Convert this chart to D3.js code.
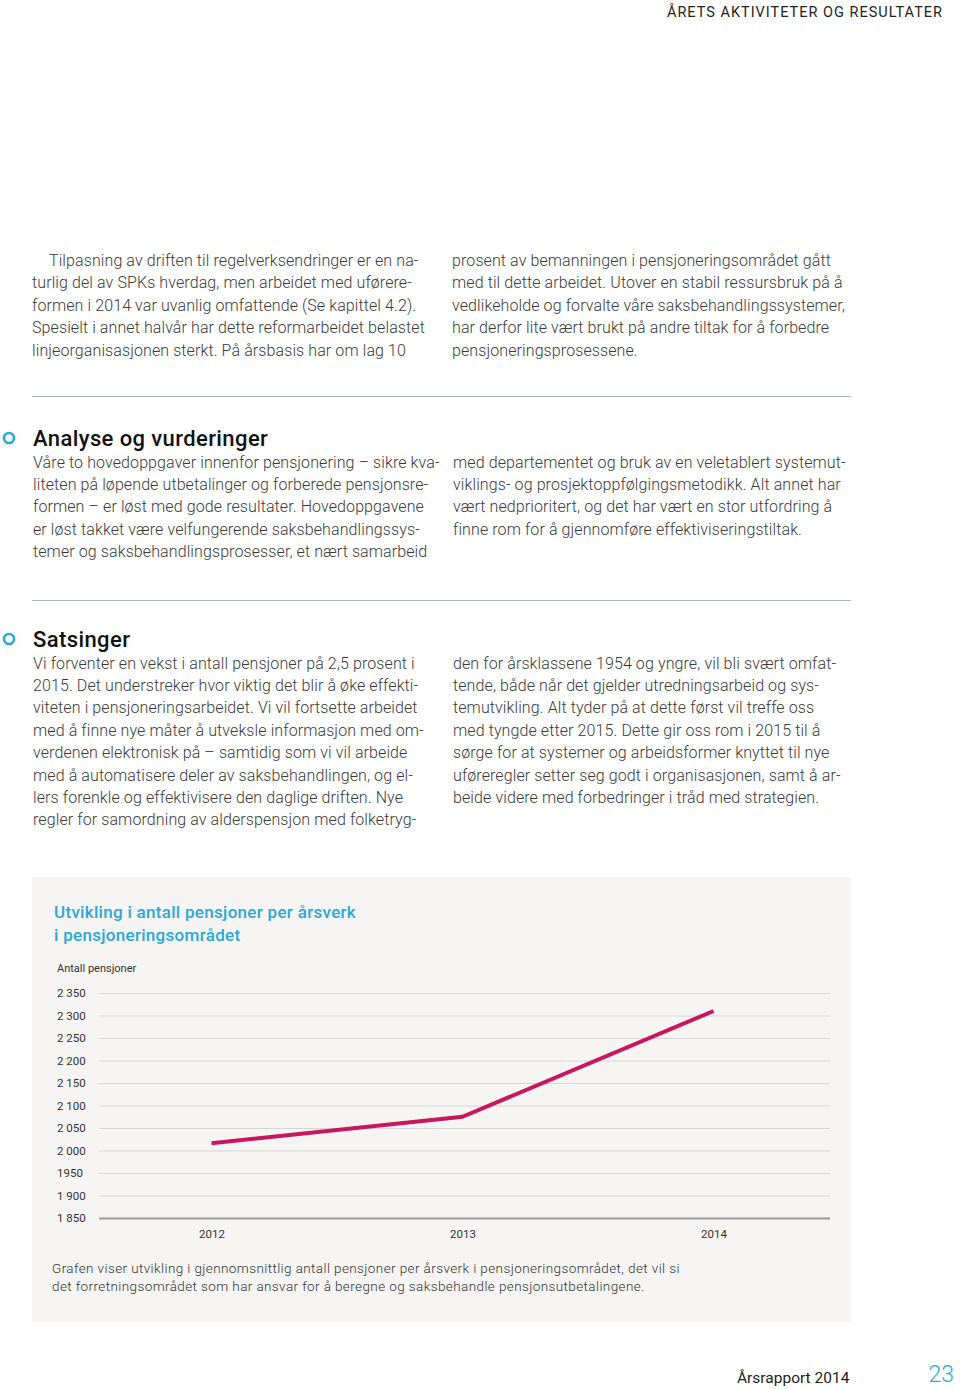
<!DOCTYPE html>
<html>
<head>
<meta charset="utf-8">
<script src="https://cdn.jsdelivr.net/npm/d3@7"></script>
<style>
  html, body { margin: 0; padding: 0; background: #ffffff; }
  svg { display: block; }
</style>
</head>
<body>
<svg id="page" width="960" height="1389"></svg>
<script>
// ---- Data ----
const years = [2012, 2013, 2014];
const pensionsPerFTE = [2016, 2075, 2310];
const yTickValues = [1850, 1900, 1950, 2000, 2050, 2100, 2150, 2200, 2250, 2300, 2350];
const yTickLabels = ["1 850", "1 900", "1950", "2 000", "2 050", "2 100", "2 150", "2 200", "2 250", "2 300", "2 350"];
const chartTitle = ["Utvikling i antall pensjoner per årsverk", "i pensjoneringsområdet"];
const yAxisTitle = "Antall pensjoner";
const caption = [
  "Grafen viser utvikling i gjennomsnittlig antall pensjoner per årsverk i pensjoneringsområdet, det vil si",
  "det forretningsområdet som har ansvar for å beregne og saksbehandle pensjonsutbetalingene."
];
const introLeft = [
  "Tilpasning av driften til regelverksendringer er en na-",
  "turlig del av SPKs hverdag, men arbeidet med uførere-",
  "formen i 2014 var uvanlig omfattende (Se kapittel 4.2).",
  "Spesielt i annet halvår har dette reformarbeidet belastet",
  "linjeorganisasjonen sterkt. På årsbasis har om lag 10"
];
const introRight = [
  "prosent av bemanningen i pensjoneringsområdet gått",
  "med til dette arbeidet.  Utover en stabil ressursbruk på å",
  "vedlikeholde og forvalte våre saksbehandlingssystemer,",
  "har derfor lite vært brukt på andre tiltak for å forbedre",
  "pensjoneringsprosessene."
];
const analyseLeft = [
  "Våre to hovedoppgaver innenfor pensjonering – sikre kva-",
  "liteten på løpende utbetalinger og forberede pensjonsre-",
  "formen – er løst med gode resultater. Hovedoppgavene",
  "er løst takket være velfungerende saksbehandlingssys-",
  "temer og saksbehandlingsprosesser, et nært samarbeid"
];
const analyseRight = [
  "med departementet og bruk av en veletablert systemut-",
  "viklings- og prosjektoppfølgingsmetodikk. Alt annet har",
  "vært nedprioritert, og det har vært en stor utfordring å",
  "finne rom for å gjennomføre effektiviseringstiltak."
];
const satsLeft = [
  "Vi forventer en vekst i antall pensjoner på 2,5 prosent i",
  "2015. Det understreker hvor viktig det blir å øke effekti-",
  "viteten i pensjoneringsarbeidet. Vi vil fortsette arbeidet",
  "med å finne nye måter å utveksle informasjon med om-",
  "verdenen elektronisk på – samtidig som vi vil arbeide",
  "med å automatisere deler av saksbehandlingen, og el-",
  "lers forenkle og effektivisere den daglige driften.  Nye",
  "regler for samordning av alderspensjon med folketryg-"
];
const satsRight = [
  "den for årsklassene 1954 og yngre, vil bli svært omfat-",
  "tende, både når det gjelder utredningsarbeid og sys-",
  "temutvikling. Alt tyder på at dette først vil treffe oss",
  "med tyngde etter 2015. Dette gir oss rom i 2015 til å",
  "sørge for at systemer og arbeidsformer knyttet til nye",
  "uføreregler setter seg godt i organisasjonen, samt å ar-",
  "beide videre med forbedringer i tråd med strategien."
];

// ---- Drawing ----
const svg = d3.select("#page");
const FONT = "Roboto, 'Noto Sans', sans-serif";
const CYAN = "#2aa8d8";
const BODY = "#3a3a3a";

svg.append("text")
  .attr("x", 943).attr("y", 17)
  .attr("text-anchor", "end")
  .attr("font-family", FONT).attr("font-size", 14.5)
  .attr("letter-spacing", 1).attr("fill", "#222")
  .text("ÅRETS AKTIVITETER OG RESULTATER");

function block(lines, x, y0, lh, opts = {}) {
  const g = svg.append("g");
  g.selectAll("text").data(lines).join("text")
    .attr("x", (d, i) => (i === 0 && opts.indent ? x + opts.indent : x))
    .attr("y", (d, i) => y0 + i * lh)
    .attr("font-family", FONT)
    .attr("font-weight", opts.weight || 300)
    .attr("font-size", opts.size || 16)
    .attr("letter-spacing", opts.ls !== undefined ? opts.ls : 0.1)
    .attr("fill", opts.fill || BODY)
    .text(d => d);
  return g;
}

block(introLeft, 32, 265.5, 22.5, { indent: 17 });
block(introRight, 452, 265.5, 22.5);

svg.append("line").attr("x1", 32).attr("x2", 851).attr("y1", 396.5).attr("y2", 396.5)
  .attr("stroke", "#a9b7c3").attr("stroke-width", 1);

function heading(text, y) {
  svg.append("circle").attr("cx", 9).attr("cy", y - 8).attr("r", 5)
    .attr("fill", "none").attr("stroke", CYAN).attr("stroke-width", 2.6);
  svg.append("text").attr("x", 33).attr("y", y)
    .attr("font-family", FONT).attr("font-weight", 500).attr("font-size", 22)
    .attr("letter-spacing", 0.4)
    .attr("fill", "#111").text(text);
}
heading("Analyse og vurderinger", 446);
block(analyseLeft, 33, 467.5, 22.4);
block(analyseRight, 453, 467.5, 22.4);

svg.append("line").attr("x1", 32).attr("x2", 851).attr("y1", 600.5).attr("y2", 600.5)
  .attr("stroke", "#a9b7c3").attr("stroke-width", 1);

heading("Satsinger", 647);
block(satsLeft, 33, 668.5, 22.4);
block(satsRight, 453, 668.5, 22.4);

// Chart panel
svg.append("rect").attr("x", 32).attr("y", 877).attr("width", 819).attr("height", 445)
  .attr("fill", "#f6f5f4");

block(chartTitle, 54, 918, 23, { weight: 500, size: 17, fill: CYAN, ls: 0.3 });

svg.append("text").attr("x", 57).attr("y", 972)
  .attr("font-family", FONT).attr("font-size", 11).attr("fill", "#333")
  .text(yAxisTitle);

const x = d3.scalePoint().domain(years).range([96, 829]).padding(0.46);
const y = d3.scaleLinear().domain([1850, 2350]).range([1218, 993]);

// gridlines
const yAxis = d3.axisRight(y)
  .tickValues(yTickValues)
  .tickSize(731)
  .tickFormat("");
const gy = svg.append("g").attr("transform", "translate(99,0)").call(yAxis);
gy.select(".domain").remove();
gy.selectAll(".tick line")
  .attr("stroke", (d) => d === 1850 ? "#9a9a9a" : "#d6d6d6")
  .attr("stroke-width", (d) => d === 1850 ? 2 : 1);

// y tick labels (left aligned)
svg.append("g").selectAll("text").data(yTickValues).join("text")
  .attr("x", 57).attr("y", d => y(d) + 4)
  .attr("font-family", FONT).attr("font-size", 11.5).attr("fill", "#333")
  .text((d, i) => yTickLabels[i]);

// x axis labels
const xAxis = d3.axisBottom(x).tickSize(0).tickFormat(d => String(d));
const gx = svg.append("g").attr("transform", "translate(0,1230)").call(xAxis);
gx.select(".domain").remove();
gx.selectAll("text").attr("font-family", FONT).attr("font-size", 11.5).attr("fill", "#333").attr("dy", "0.71em").attr("y", 0);

// line
const data = years.map((yr, i) => ({ yr, v: pensionsPerFTE[i] }));
svg.append("path").datum(data)
  .attr("d", d3.line().x(d => x(d.yr)).y(d => y(d.v)))
  .attr("fill", "none").attr("stroke", "#c8175d").attr("stroke-width", 4)
  .attr("stroke-linejoin", "round");

block(caption, 52, 1272.5, 18.5, { weight: 300, size: 13.5, fill: "#333", ls: 0.4 });

// footer
svg.append("text").attr("x", 737).attr("y", 1383)
  .attr("font-family", FONT).attr("font-size", 15.5).attr("fill", "#222")
  .text("Årsrapport 2014");
svg.append("text").attr("x", 954).attr("y", 1382).attr("text-anchor", "end")
  .attr("font-family", FONT).attr("font-weight", 300).attr("font-size", 23).attr("fill", CYAN)
  .text("23");
</script>
</body>
</html>
